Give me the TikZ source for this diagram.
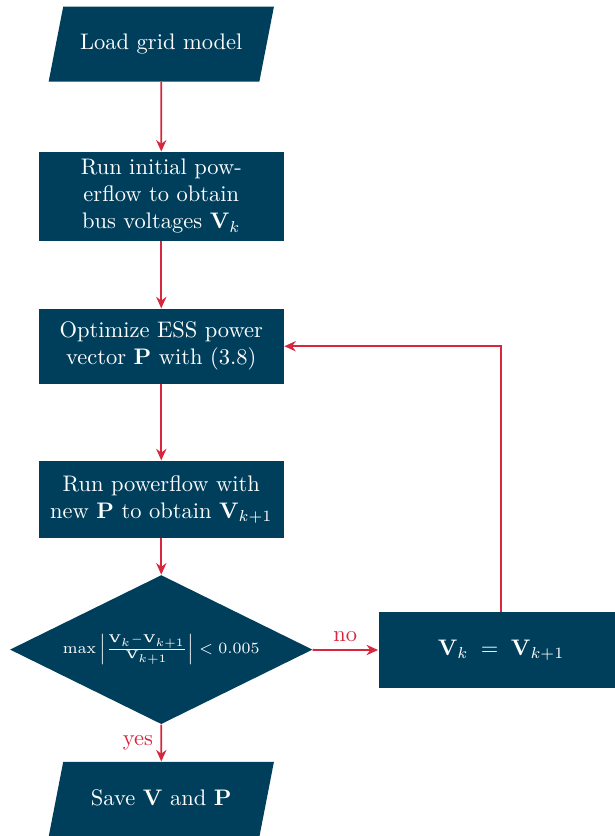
\documentclass[tikz,border=0pt]{standalone}
\usepackage{amsmath,amssymb}
\usepackage{xcolor}
\usepackage{tikz}
\usetikzlibrary{positioning, arrows.meta, shapes.geometric, calc}

\definecolor{boxblue}{HTML}{003F5C}
\definecolor{flowred}{HTML}{D7263D}

\begin{document}
\begin{tikzpicture}[
    process/.style={rectangle, fill=boxblue, text=white, minimum width=3.83cm, align=center, inner sep=0pt},
    io/.style={trapezium, trapezium left angle=79, trapezium right angle=101, trapezium stretches body=true, fill=boxblue, text=white, minimum width=3.52cm, text height=0.25cm, text depth=0.07cm, inner xsep=0pt, inner ysep=0.425cm},
    decision/.style={diamond, aspect=2, fill=boxblue, text=white, minimum width=4.73cm, minimum height=2.33cm, inner sep=0pt, font=\fontsize{7.4}{9}\selectfont},
    arrow/.style={-{Stealth[length=1.8mm, width=1.6mm]}, thick, flowred}
]

\useasboundingbox (0, 0) rectangle (9.594, -13.0625);

\node[io] (load) at (2.52, -0.69) {Load grid model};
\node[process, minimum height=1.39cm] (init) at (2.52, -3.07) {Run initial pow-\\erflow to obtain\\bus voltages $\mathbf{V}_k$};
\node[process, minimum height=1.17cm] (opt) at (2.52, -5.41) {Optimize ESS power\\vector $\mathbf{P}$ with (3.8)};
\node[process, minimum height=1.2cm] (run) at (2.52, -7.80) {Run powerflow with\\new $\mathbf{P}$ to obtain $\mathbf{V}_{k+1}$};
\node[decision] (check) at (2.52, -10.15) {$\max\left|\frac{\mathbf{V}_k-\mathbf{V}_{k+1}}{\mathbf{V}_{k+1}}\right| < 0.005$};
\node[process, minimum height=1.19cm] (update) at (7.83, -10.16) {$\mathbf{V}_k \;=\; \mathbf{V}_{k+1}$};
\node[io] (save) at (2.52, -12.49) {Save $\mathbf{V}$ and $\mathbf{P}$};

\draw[arrow] (load) -- (init);
\draw[arrow] (init) -- (opt);
\draw[arrow] (opt) -- (run);
\draw[arrow] (run) -- (check);
\draw[arrow] (check) -- node[above] {no} (update);
\draw[arrow] (check) -- node[left] {yes} (save);
\draw[arrow] (update.north) |- (opt.east);

\end{tikzpicture}
\end{document}
